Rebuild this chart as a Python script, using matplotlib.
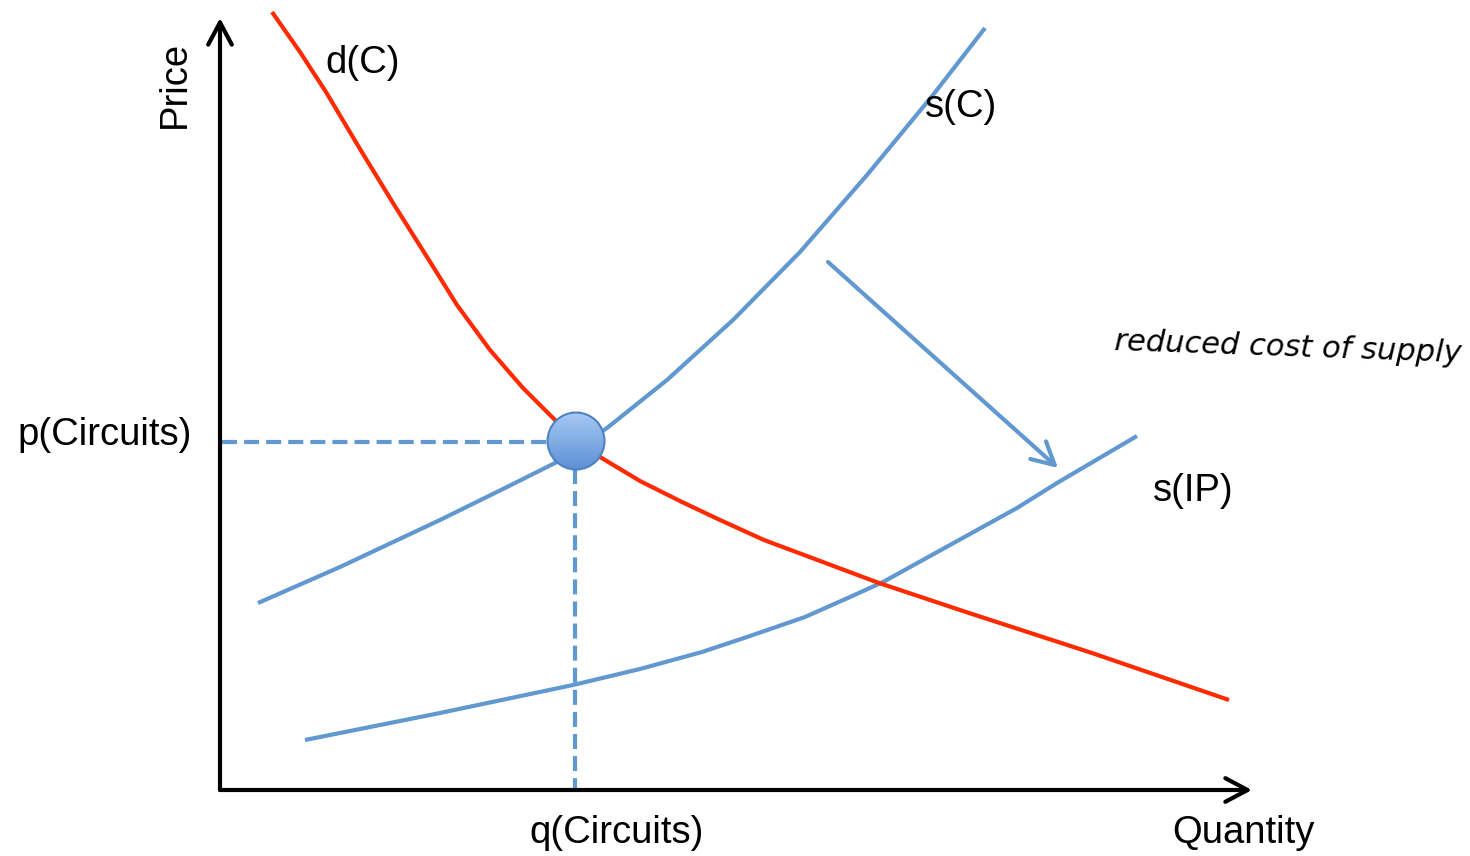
import numpy as np
import matplotlib.pyplot as plt
from matplotlib.colors import LinearSegmentedColormap
from matplotlib.patches import Circle

plt.rcParams['font.family'] = ['Liberation Sans', 'DejaVu Sans']

# curve points (quantity, price), origin at the axes corner
demand_q = [52, 80, 106, 140, 173, 207, 237, 270, 303, 333, 356, 380, 420, 462, 500, 544, 659, 749, 872, 1009]
demand_p = [778, 738, 698, 641, 587, 533, 485, 440, 402, 372, 349, 333, 309, 288, 270, 250, 207, 177, 137, 90]

supply_c_q = [38, 120, 220, 287, 337, 387, 447, 513, 580, 647, 713, 765]
supply_c_p = [187, 223, 270, 303, 328, 362, 410, 470, 538, 615, 695, 762]

supply_ip_q = [85, 220, 353, 420, 482, 530, 585, 630, 663, 730, 797, 837, 917]
supply_ip_p = [50, 77, 105, 121, 138, 154, 173, 193, 208, 245, 282, 307, 354]

eq_q, eq_p = 356, 349
shift_start = (608, 528)
shift_end = (838, 322)

red = '#ff2a00'
blue = '#6198d0'
lw = 3.0

fig = plt.figure(figsize=(14.7, 8.56), dpi=100)
ax = fig.add_axes([0, 0, 1, 1])
ax.set_xlim(-220, 1250)
ax.set_ylim(-66, 790)
ax.axis('off')

head = '->,head_length=1.6,head_width=0.85'
# axes arrows
for tip in [(0, 772), (1032, 0)]:
    ax.annotate('', xy=tip, xytext=(0, 0),
                arrowprops=dict(arrowstyle=head, lw=lw, color='black', capstyle='round',
                                joinstyle='round', shrinkA=0, shrinkB=0))

ax.plot(supply_c_q, supply_c_p, color=blue, lw=lw, solid_capstyle='butt', solid_joinstyle='round', zorder=2)
ax.plot(supply_ip_q, supply_ip_p, color=blue, lw=lw, solid_capstyle='butt', solid_joinstyle='round', zorder=2)
ax.plot(demand_q, demand_p, color=red, lw=lw, solid_capstyle='butt', solid_joinstyle='round', zorder=3)

# dashed guides
ax.plot([2, eq_q - 28], [eq_p - 1, eq_p - 1], color=blue, lw=lw, ls=(0, (3.6, 1.7)), zorder=2)
ax.plot([eq_q - 1, eq_q - 1], [eq_p - 28, 0], color=blue, lw=lw, ls=(0, (3.6, 1.7)), zorder=2)

# shift arrow
ax.annotate('', xy=shift_end, xytext=shift_start,
            arrowprops=dict(arrowstyle=head, lw=lw, color=blue, capstyle='round',
                            joinstyle='round', shrinkA=0, shrinkB=0))

# equilibrium point with gradient fill
circ = Circle((eq_q, eq_p), 28.5, facecolor='none', edgecolor='#4f82c2', lw=1.5, zorder=6)
ax.add_patch(circ)
grad = np.linspace(0, 1, 100).reshape(-1, 1)
cmap = LinearSegmentedColormap.from_list('ball', ['#5b8fd6', '#a8caf4'])
img = ax.imshow(grad, cmap=cmap, extent=(eq_q - 29, eq_q + 29, eq_p - 29, eq_p + 29),
                origin='lower', zorder=5, aspect='auto')
img.set_clip_path(circ)

fs = 27.5
ax.text(-45, 706, 'Price', rotation=90, fontsize=fs, ha='center', va='center')
ax.text(-28, 355, 'p(Circuits)', fontsize=fs, ha='right', va='center')
ax.text(397, -43, 'q(Circuits)', fontsize=fs, ha='center', va='center')
ax.text(1023, -43, 'Quantity', fontsize=fs, ha='center', va='center')
ax.text(105, 727, 'd(C)', fontsize=fs, ha='left', va='center')
ax.text(705, 683, 's(C)', fontsize=fs, ha='left', va='center')
ax.text(933, 299, 's(IP)', fontsize=fs, ha='left', va='center')
ax.text(1068, 442, 'reduced cost of supply', fontsize=22, ha='center', va='center',
        family='DejaVu Sans', style='italic', rotation=-2)

fig.savefig('out.png', dpi=100)
